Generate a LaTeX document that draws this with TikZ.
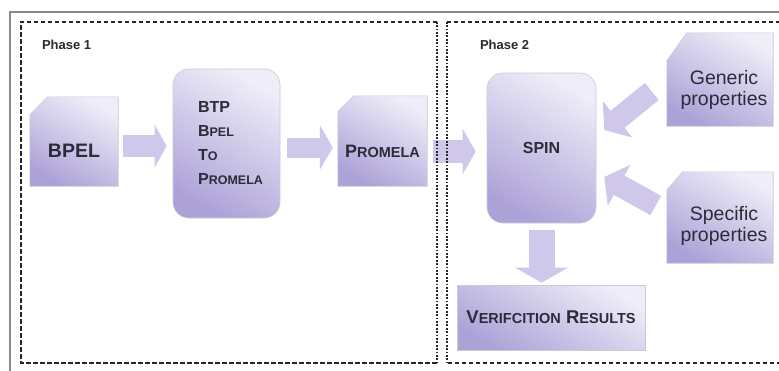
\documentclass[tikz,border=0pt]{standalone}
\usepackage{fontspec}
\setmainfont{Liberation Sans}
\usetikzlibrary{calc,arrows.meta}
\definecolor{lavdark}{HTML}{ADA2D8}
\definecolor{lavlight}{HTML}{EFEDF8}
\definecolor{txtc}{HTML}{2B2B3A}
\definecolor{arrc}{HTML}{CFC8EA}
\definecolor{edgec}{HTML}{CACAD8}
\definecolor{framec}{HTML}{8A8A8A}
\definecolor{phasec}{HTML}{2A2A2A}
\newcommand\smcA[1]{{\fontsize{12.5}{14}\selectfont #1}}
\newcommand\smcB[1]{{\fontsize{14.5}{16}\selectfont #1}}
\newcommand\chamfer[3]{\shade[boxshade] (#1.south west) -- ($(#1.north west)+(0,#3)$) -- ($(#1.north west)+(#2,0)$) -- (#1.north east) -- (#1.south east) -- cycle;}
\begin{document}
\begin{tikzpicture}[x=1pt,y=-1pt,
  boxshade/.style={draw=edgec, line width=0.6pt, top color=lavlight, bottom color=lavdark, shading angle=-30},
  area/.style={inner sep=0pt, draw=none},
  roundbox/.style={boxshade, rounded corners=16pt, inner sep=0pt},
  txt/.style={text=txtc, font=\bfseries\fontsize{16}{20}\selectfont, align=center, inner sep=0pt},
  ptxt/.style={text=txtc, font=\fontsize{19.5}{21}\selectfont, align=center, inner sep=0pt},
  phase/.style={text=phasec, font=\bfseries\fontsize{13}{15}\selectfont, inner sep=0pt},
  fatarrow/.style n args={3}{draw=arrc, line width=#1, -{Triangle[width=#2,length=#3]}},
  dashside/.style={draw=black!85, line width=1.6pt, dash pattern=on 4.5pt off 2.5pt},
  dotside/.style={draw=black!85, line width=2.2pt, dash pattern=on 1.8pt off 1.6pt}]
\useasboundingbox (0,0) rectangle (779,370);
\clip (0,0) rectangle (779,370);
\fill[white] (0,0) rectangle (779,370);
% outer frame
\draw[framec, line width=1.8pt] (10,12) rectangle (800,390);

% phase 1 nodes
\node[area, minimum width=88pt, minimum height=89pt] (bpel) at (74,141.5) {};
\chamfer{bpel}{18}{18}
\node[txt, font=\bfseries\fontsize{19.5}{22}\selectfont] (bpelt) at ($(bpel.center)+(0,9)$) {BPEL};

\node[roundbox, minimum width=107pt, minimum height=149pt] (btp) at (226.5,143.5) {};
\node[txt, align=left] (btpt) at ($(btp.center)+(4,0)$) {BTP\\[4pt]B\smcA{PEL}\\[4pt]T\smcA{O}\\[4pt]P\smcA{ROMELA}};

\node[area, minimum width=89pt, minimum height=90pt] (prom) at (382.5,141) {};
\chamfer{prom}{16}{16}
\node[txt, font=\bfseries\fontsize{18}{20}\selectfont] (promt) at ($(prom.center)+(0,10)$) {P\smcB{ROMELA}};

% phase 2 nodes
\node[roundbox, minimum width=109pt, minimum height=150pt] (spin) at (541.5,148) {};
\node[txt] (spint) at (spin.center) {SPIN};

\node[area, minimum width=106pt, minimum height=93pt] (gen) at (720,79.5) {};
\chamfer{gen}{20}{28}
\node[ptxt] (gent) at ($(gen.center)+(4,10)$) {Generic\\properties};

\node[area, minimum width=106pt, minimum height=91pt] (spec) at (720,217.5) {};
\chamfer{spec}{16}{18}
\node[ptxt] (spect) at ($(spec.center)+(4,8)$) {Specific\\properties};

\node[boxshade, minimum width=188pt, minimum height=65pt, inner sep=0pt] (verif) at (551,317.5) {};
\node[txt, font=\bfseries\fontsize{18.5}{20}\selectfont] (verift) at (verif.center) {V\smcB{ERIFCITION} R\smcB{ESULTS}};

% fat arrows
\draw[fatarrow={22pt}{42pt}{12pt}] ($(bpel.east)+(5,4.5)$) -- ($(bpel.east -| btp.west)+(-6,4.5)$);
\draw[fatarrow={20pt}{44pt}{13pt}] ($(btp.east)+(7,4)$) -- ($(btp.east -| prom.west)+(-5,4)$);
\draw[fatarrow={23pt}{45pt}{13pt}] ($(prom.east)+(6,10.5)$) -- ($(prom.east -| spin.west)+(-11,10.5)$);
\draw[fatarrow={22pt}{46pt}{17pt}] ($(gen.west)+(-15,12)$) -- ($(spin.east)+(8,-18)$);
\draw[fatarrow={22pt}{46pt}{17pt}] ($(spec.west)+(-11,-12)$) -- ($(spin.east)+(8,29)$);
\draw[fatarrow={26pt}{52pt}{15pt}] ($(spin.south)+(0,7)$) -- ($(spin.south |- verif.north)+(0,-2)$);

% phase frames
\node[area, minimum width=416pt, minimum height=341pt] (ph1) at (229,192.5) {};
\node[area, minimum width=353pt, minimum height=341pt] (ph2) at (623.5,192.5) {};
\draw[dashside] (ph1.north east) -- (ph1.north west) -- (ph1.south west) -- (ph1.south east);
\draw[dotside] (ph1.north east) -- (ph1.south east);
\draw[dashside] (ph2.north west) -- (ph2.north east) -- (ph2.south east) -- (ph2.south west);
\draw[dotside] (ph2.north west) -- (ph2.south west);
\node[phase, anchor=base west] (ph1l) at ($(ph1.north west)+(21,28)$) {Phase 1};
\node[phase, anchor=base west] (ph2l) at ($(ph2.north west)+(33,28)$) {Phase 2};
\end{tikzpicture}
\end{document}
